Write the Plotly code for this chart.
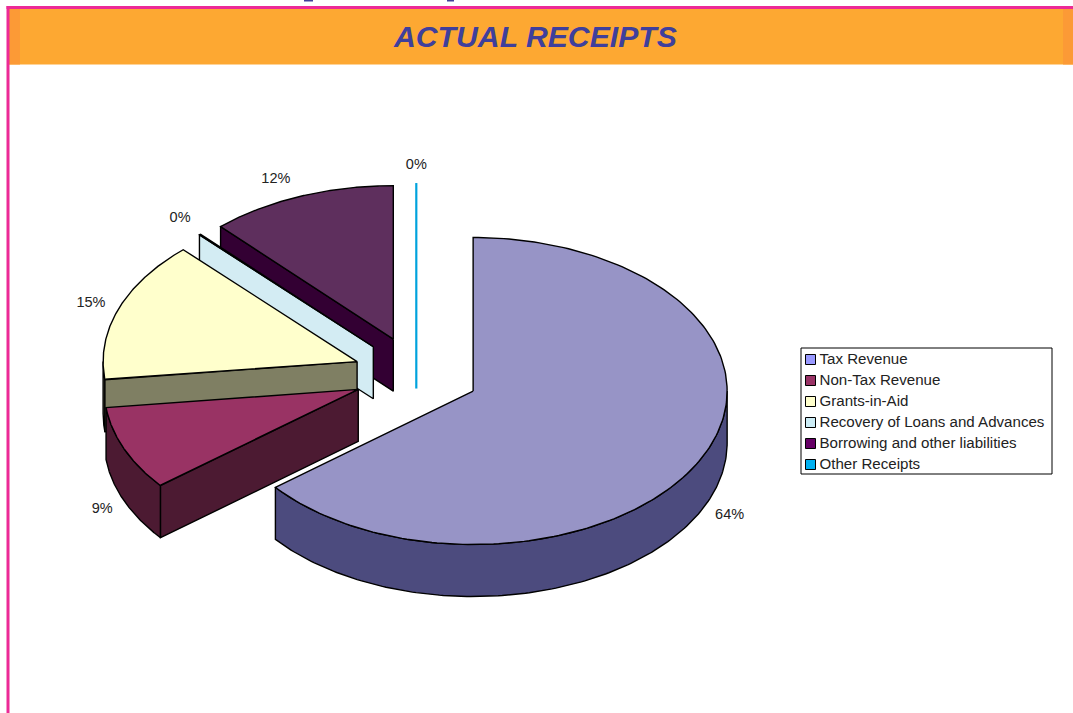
import numpy as np
import plotly.graph_objects as go

categories = ["Tax Revenue", "Non-Tax Revenue", "Grants-in-Aid",
              "Recovery of Loans and Advances", "Borrowing and other liabilities", "Other Receipts"]
values = [64.2, 8.9, 14.9, 0.1, 11.9, 0.0]
pct_labels = ["64%", "9%", "15%", "0%", "12%", "0%"]
top_colors = ["#9794C6", "#993364", "#FFFFCC", "#D3ECF3", "#5E2F5D", "#00A3DD"]
wall_colors = ["#4C4B7E", "#4C1A32", "#7F7F63", "#D3ECF3", "#330033", "#00A3DD"]
swatch_colors = ["#9999FF", "#993366", "#FFFFCC", "#CCECF5", "#660066", "#00B0F0"]

W, H = 1073, 713
CX, CY, RX, RY, EXPLODE, DEPTH = 416.3, 374.6, 254.0, 153.5, 0.248, 52.0
LABEL_R = 1.115

fig = go.Figure()


def pt(ax, ay, th, r=1.0):
    return ax + r * RX * np.sin(th), ay - r * RY * np.cos(th)


def poly(xs, ys, fill, lw=1.4, line="#000000"):
    fig.add_trace(go.Scatter(x=list(xs) + [xs[0]], y=list(ys) + [ys[0]], mode="lines", fill="toself",
                             fillcolor=fill, line=dict(color=line, width=lw), hoverinfo="skip", showlegend=False))


cum = np.concatenate([[0], np.cumsum(values)]) / sum(values) * 2 * np.pi
slices = []
for i in range(len(values)):
    a, b = cum[i], cum[i + 1]
    m = (a + b) / 2
    ox, oy = pt(CX, CY, m, EXPLODE)
    slices.append((a, b, m, ox, oy))

# back to front painting order
for i in [5, 4, 3, 2, 1, 0]:
    a, b, m, ox, oy = slices[i]
    if i == 5:
        fig.add_trace(go.Scatter(x=[ox, ox], y=[oy - RY, oy + DEPTH], mode="lines",
                                 line=dict(color=top_colors[i], width=2.2), hoverinfo="skip", showlegend=False))
        continue
    # outer wall: the part of the rim facing the viewer
    lo, hi = max(a, np.pi / 2), min(b, 3 * np.pi / 2)
    if hi > lo:
        t = np.linspace(lo, hi, 160)
        xs, ys = pt(ox, oy, t)
        poly(np.r_[xs, xs[::-1]], np.r_[ys, ys[::-1] + DEPTH], wall_colors[i])
    # cut wall on the slice's leading edge (visible on the left half)
    if a > np.pi:
        ex, ey = pt(ox, oy, a)
        poly([ox, ex, ex, ox], [oy, ey, ey + DEPTH, oy + DEPTH], wall_colors[i])
    # top face
    t = np.linspace(a, b, 200)
    xs, ys = pt(ox, oy, t)
    poly(np.r_[ox, xs], np.r_[oy, ys], top_colors[i])

# percentage labels, placed outside the rim of their slice
label_nudge_x = [1, 5, 0, 0, -14, 0]
label_nudge_y = [-1, 1, 0, -3, 0, 0]
lx, ly = [], []
for i, (a, b, m, ox, oy) in enumerate(slices):
    x, y = pt(ox, oy, m, LABEL_R)
    if np.cos(m) < 0:
        y += DEPTH
    lx.append(x + label_nudge_x[i])
    ly.append(y + label_nudge_y[i])
fig.add_trace(go.Scatter(x=lx, y=ly, mode="text", text=pct_labels, textposition="middle center",
                         textfont=dict(family="Liberation Sans", size=14.5, color="#222222"),
                         hoverinfo="skip", showlegend=False))

# legend
LEG_L, LEG_T, LEG_R, LEG_B, LEG_ROW = 801, 348, 1052, 474, 21
ly0 = LEG_T + 11.5
row_y = [ly0 + k * LEG_ROW for k in range(len(categories))]
text_y = [y + 1 for y in row_y]
fig.add_shape(type="rect", x0=LEG_L, x1=LEG_R, y0=LEG_T, y1=LEG_B, line=dict(color="#000000", width=1),
              fillcolor="#FFFFFF", layer="below")
fig.add_trace(go.Scatter(x=[LEG_L + 9.5] * len(categories), y=row_y, mode="markers",
                         marker=dict(symbol="square", size=10, color=swatch_colors,
                                     line=dict(color="#000000", width=1)),
                         hoverinfo="skip", showlegend=False))
fig.add_trace(go.Scatter(x=[LEG_L + 18.5] * len(categories), y=text_y, mode="text", text=categories,
                         textposition="middle right",
                         textfont=dict(family="Liberation Sans", size=15.1, color="#222222"),
                         hoverinfo="skip", showlegend=False))

# page furniture
fig.add_shape(type="rect", x0=9, x1=1073, y0=9, y1=64.5, fillcolor="#FDA832", line_width=0, layer="below")
fig.add_shape(type="rect", x0=9, x1=20, y0=9, y1=64.5, fillcolor="#FC9A36", line_width=0, layer="below")
fig.add_shape(type="rect", x0=1063, x1=1073, y0=9, y1=64.5, fillcolor="#FC9A36", line_width=0, layer="below")
fig.add_shape(type="rect", x0=6.5, x1=1073, y0=6, y1=9, fillcolor="#EC2A96", line_width=0, layer="below")
fig.add_shape(type="rect", x0=6.5, x1=9.5, y0=6, y1=713, fillcolor="#EC2A96", line_width=0, layer="below")
# clipped descenders of the cropped line of text above the frame
fig.add_shape(type="rect", x0=304, x1=313, y0=0, y1=1.5, fillcolor="#3F3F9C", line_width=0, layer="below")
fig.add_shape(type="rect", x0=447, x1=454, y0=0, y1=1.5, fillcolor="#3F3F9C", line_width=0, layer="below")
fig.add_annotation(x=535, y=36, text="<b><i>ACTUAL RECEIPTS</i></b>", showarrow=False, xanchor="center", yanchor="middle",
                   font=dict(family="Liberation Sans", size=30.2, color="#3F3F9C"))

fig.update_layout(width=W, height=H, margin=dict(l=0, r=0, t=0, b=0), paper_bgcolor="white", plot_bgcolor="white",
                  showlegend=False,
                  xaxis=dict(range=[0, W], visible=False, fixedrange=True),
                  yaxis=dict(range=[H, 0], visible=False, fixedrange=True))
fig.write_html("out.html", config={"displayModeBar": False},
               post_script="document.body.style.margin='0';")
